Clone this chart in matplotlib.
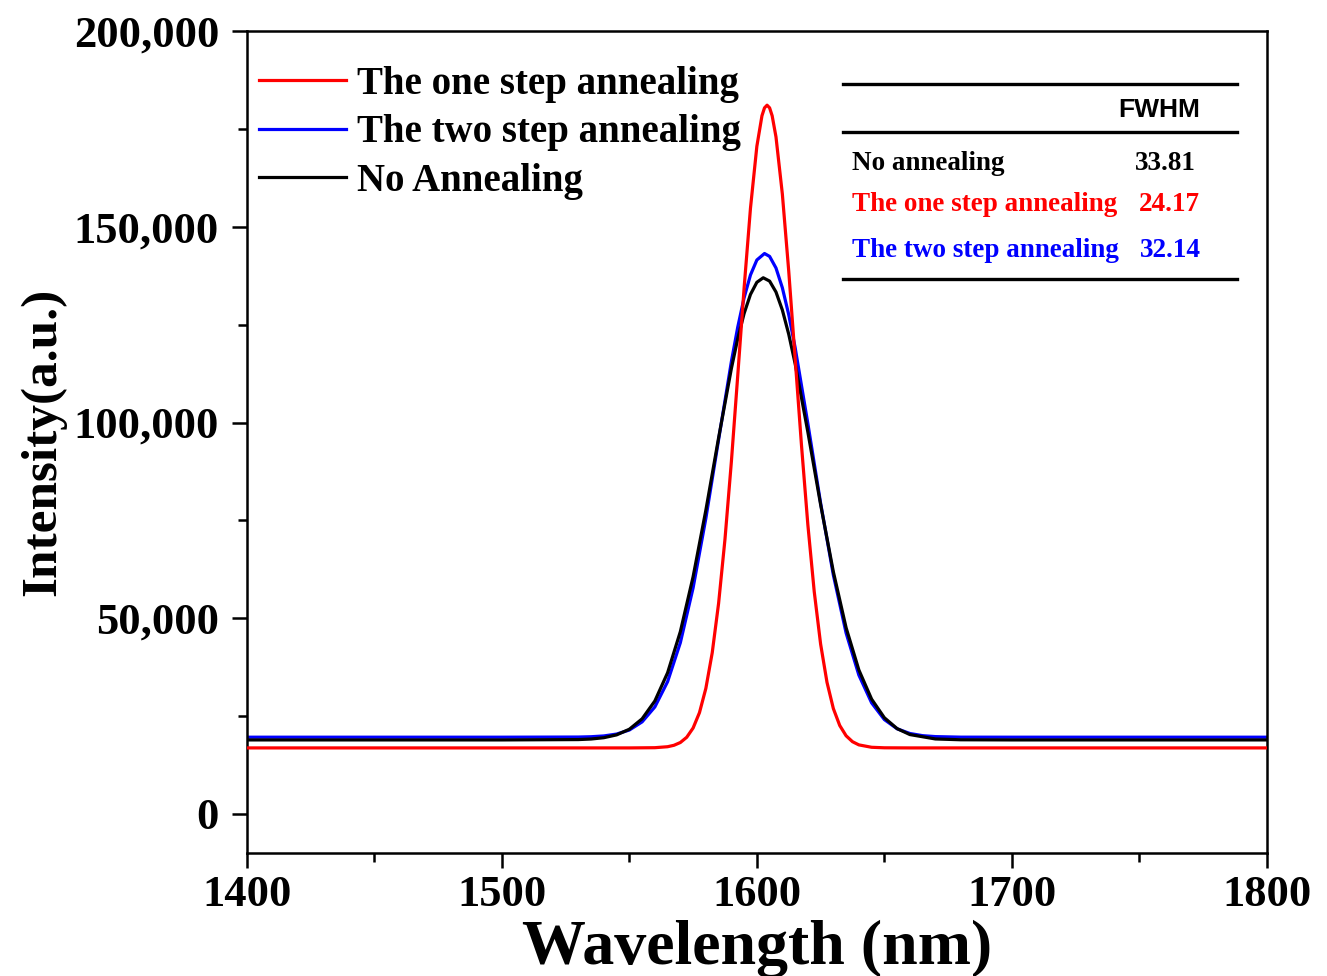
import numpy as np
import matplotlib
matplotlib.use('Agg')
import matplotlib.pyplot as plt
from matplotlib.ticker import FuncFormatter, MultipleLocator

plt.rcParams['font.family'] = 'Liberation Serif'
plt.rcParams['font.weight'] = 'bold'
plt.rcParams['axes.labelweight'] = 'bold'

# (wavelength nm, intensity a.u.)
wl_one = [1400, 1500, 1550, 1560, 1565, 1567.5, 1570, 1572.5, 1575, 1577.5, 1580, 1582.5,
          1585, 1587.5, 1590, 1592.5, 1595, 1597.5, 1600, 1602, 1603, 1604, 1605, 1606, 1607.5,
          1610, 1612.5, 1615, 1617.5, 1620, 1622.5, 1625, 1627.5, 1630, 1632.5, 1635,
          1637.5, 1640, 1645, 1650, 1660, 1700, 1800]
int_one = [16860, 16860, 16860, 16915, 17165, 17530, 18240, 19580, 21940, 25880, 32070, 41180,
           53810, 70190, 89930, 111960, 134390, 154790, 170590, 178400, 180420, 181100, 180420, 178400, 173000,
           158380, 138710, 116470, 94200, 73880, 56790, 43400, 33630, 26910, 22590, 19960,
           18450, 17635, 17020, 16890, 16860, 16860, 16860]

wl_two = [1400, 1500, 1530, 1535, 1540, 1545, 1550, 1555, 1560, 1565, 1570, 1575, 1580,
          1585, 1590, 1592.5, 1595, 1597.5, 1600, 1603, 1605, 1607.5, 1610, 1612.5, 1615, 1620,
          1625, 1630, 1635, 1640, 1645, 1650, 1655, 1660, 1665, 1670, 1680, 1700, 1800]
int_two = [19600, 19600, 19640, 19720, 19920, 20400, 21430, 23510, 27330, 33790, 43750, 57760, 75520,
           95640, 115540, 124360, 131890, 137720, 141540, 143200, 142460, 139500, 134440, 127570, 119200, 99740,
           79420, 61030, 46220, 35470, 28380, 24100, 21750, 20550, 19990, 19750, 19610, 19600, 19600]

wl_none = [1400, 1500, 1530, 1535, 1540, 1545, 1550, 1555, 1560, 1565, 1570, 1575, 1580,
           1585, 1590, 1592.5, 1595, 1597.5, 1600, 1602.5, 1605, 1607.5, 1610, 1612.5, 1615, 1620,
           1625, 1630, 1635, 1640, 1645, 1650, 1655, 1660, 1670, 1680, 1700, 1800]
int_none = [18900, 18900, 18990, 19135, 19470, 20190, 21630, 24290, 28850, 36070, 46580, 60600, 77600,
            96100, 113780, 121450, 127870, 132750, 135840, 137000, 136150, 133360, 128760, 122570, 115080, 97580,
            79050, 61860, 47560, 36780, 29320, 24570, 21790, 20270, 19150, 18940, 18900, 18900]

labels = ['The one step annealing', 'The two step annealing', 'No Annealing']
table_rows = ['No annealing', 'The one step annealing', 'The two step annealing']
fwhm = ['33.81', '24.17', '32.14']
row_colors = ['black', '#ff0000', '#0000ff']

fig = plt.figure(figsize=(13.27, 9.76), dpi=100)
ax = fig.add_axes([0.186, 0.126, 0.7687, 0.842])

l2, = ax.plot(wl_two, int_two, color='#0000ff', lw=2.3, label=labels[1], zorder=2)
l3, = ax.plot(wl_none, int_none, color='black', lw=2.3, label=labels[2], zorder=3)
l1, = ax.plot(wl_one, int_one, color='#ff0000', lw=2.3, label=labels[0], zorder=4)

ax.set_xlim(1400, 1800)
ax.set_ylim(-10000, 200000)
ax.xaxis.set_major_locator(MultipleLocator(100))
ax.xaxis.set_minor_locator(MultipleLocator(50))
ax.yaxis.set_major_locator(MultipleLocator(50000))
ax.yaxis.set_minor_locator(MultipleLocator(25000))
ax.yaxis.set_major_formatter(FuncFormatter(lambda v, p: f'{int(v):,}'))

for s in ax.spines.values():
    s.set_linewidth(1.8)
ax.tick_params(which='major', direction='out', length=11, width=1.8, labelsize=32)
ax.tick_params(which='minor', direction='out', length=6.5, width=1.8)
ax.tick_params(axis='y', which='major', pad=9)
ax.tick_params(axis='x', which='major', pad=5)

ax.set_xlabel('Wavelength (nm)', fontsize=46, labelpad=3)
ax.set_ylabel('Intensity(a.u.)', fontsize=37, labelpad=5)

ax.legend(handles=[l1, l2, l3], loc='upper left', bbox_to_anchor=(0.012, 0.958),
          frameon=False, fontsize=28, handlelength=2.24, handletextpad=0.28,
          labelspacing=0.3, borderpad=0, borderaxespad=0)

# FWHM table
tr = ax.transAxes
for yy in [0.9355, 0.877, 0.698]:
    ax.plot([0.584, 0.971], [yy, yy], color='black', lw=2.4, transform=tr, clip_on=False)
ax.text(0.935, 0.904, 'FWHM', family='Liberation Sans', fontweight='bold', fontsize=19,
        ha='right', va='center', transform=tr)
row_y = [0.8394, 0.7895, 0.7336]
val_x = [0.8706, 0.8745, 0.8755]
for name, val, c, yy, vx in zip(table_rows, fwhm, row_colors, row_y, val_x):
    ax.text(0.593, yy, name, color=c, fontsize=19.5, ha='left', va='center', transform=tr)
    ax.text(vx, yy, val, color=c, fontsize=19.5, ha='left', va='center', transform=tr)

fig.savefig('out.png', dpi=100)
